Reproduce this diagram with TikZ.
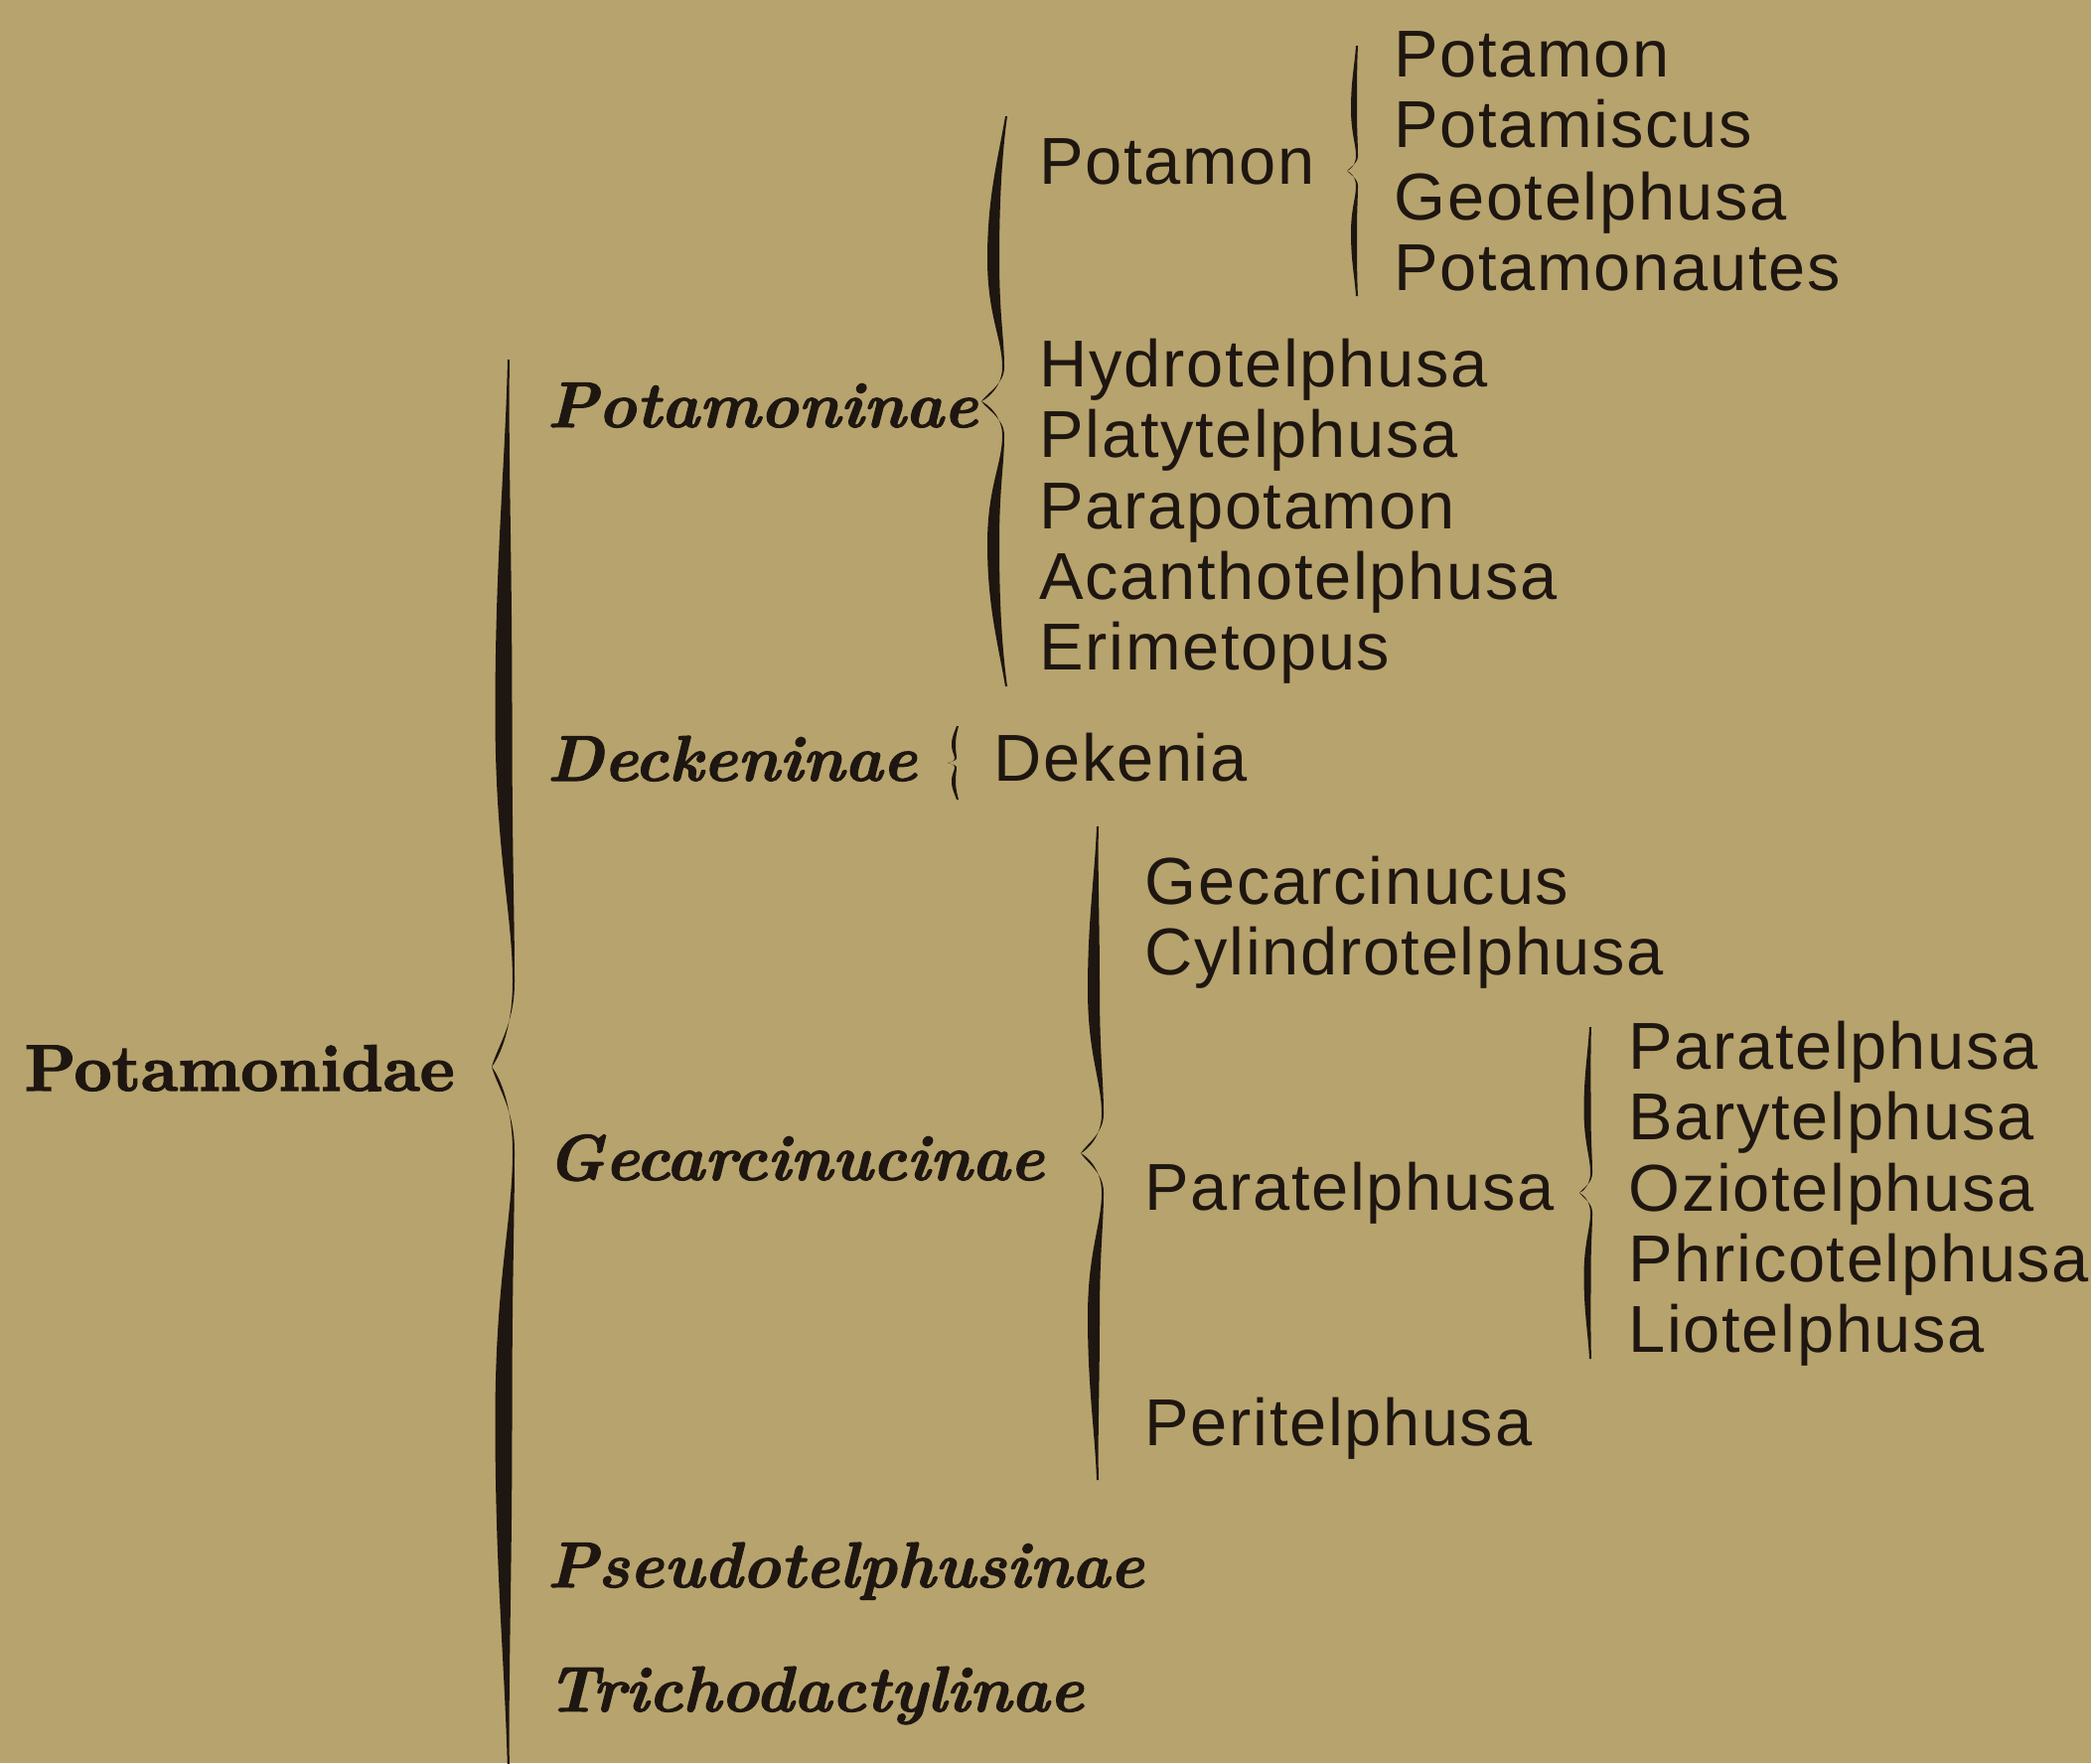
\documentclass[tikz,border=0pt]{standalone}
\usepackage{fontspec}
\newfontfamily\genusfont{Liberation Sans}[LetterSpace=2.5]
\newfontfamily\subfamfont{lmroman10-bolditalic}[Extension=.otf, FakeBold=1.6]
\newfontfamily\familyfont{lmroman10-bold}[Extension=.otf, FakeBold=2]
\usetikzlibrary{calc}
\definecolor{ink}{RGB}{30,22,16}
\definecolor{paper}{RGB}{183,163,109}
% #1 tip coordinate, #2 half height, #3 thickness, #4 tip depth, #5 end curl, #6 bump
\newcommand\grpbrace[6]{%
  \foreach \sy in {1,-1}{
    \fill[ink, shift={(#1)}, yscale=\sy]
      (#5,#2) .. controls ({0.4*#5},{0.85*#2}) and ({-#3/2},{0.72*#2}) .. ({-#3/2},{0.5*#2})
      .. controls ({-#3/2},{0.3*#2}) and ({#6-1},{0.22*#2}) .. ({#6-1},{0.12*#2})
      .. controls ({#6-1},{0.05*#2}) and ({-0.5*#4},{0.01*#2}) .. ({-#4},0)
      .. controls ({-0.5*#4},{0.03*#2}) and ({#6+1},{0.06*#2}) .. ({#6+1},{0.12*#2})
      .. controls ({#6+1},{0.22*#2}) and ({#3/2},{0.3*#2}) .. ({#3/2},{0.5*#2})
      .. controls ({#3/2},{0.72*#2}) and ({0.6*#5+2},{0.88*#2}) .. ({#5+2},{#2}) -- cycle;
  }%
}
\tikzset{
  every picture/.style={color=ink},
  family/.style={anchor=base west, inner sep=0pt, font=\familyfont\fontsize{18.8}{21}\selectfont},
  subfam/.style={anchor=base west, inner sep=0pt, font=\subfamfont\fontsize{18.5}{20}\selectfont},
  genus/.style={anchor=base west, inner sep=0pt, font=\genusfont\fontsize{19}{21}\selectfont},
}

\begin{document}
\begin{tikzpicture}[x=0.1mm, y=-0.1mm]
  \fill[paper] (0,0) rectangle (2105,1775);
  \useasboundingbox (0,0) rectangle (2105,1775);
  % family
  \node[family] (potamonidae) at (24,1098) {Potamonidae};
  % subfamilies
  \node[subfam] (potamoninae) at (550,430) {Potamoninae};
  \node[subfam] (deckeninae) at (550,786) {Deckeninae};
  \node[subfam] (gecarcinucinae) at (550,1188) {Gecarcinucinae};
  \node[subfam] (pseudotelphusinae) at (550,1598) {Pseudotelphusinae};
  \node[subfam] (trichodactylinae) at (550,1723) {Trichodactylinae};
  % genera of Potamoninae
  \node[genus] (g-potamon) at (1046,185) {Potamon};
  \node[genus] (g-hydro) at (1046,389) {Hydrotelphusa};
  \node[genus] (g-platy) at (1046,460) {Platytelphusa};
  \node[genus] (g-parapot) at (1046,532) {Parapotamon};
  \node[genus] (g-acantho) at (1046,603) {Acanthotelphusa};
  \node[genus] (g-erime) at (1046,674) {Erimetopus};
  % subgenera of Potamon
  \node[genus] (s-potamon) at (1403,77) {Potamon};
  \node[genus] (s-potamiscus) at (1403,148) {Potamiscus};
  \node[genus] (s-geo) at (1403,221) {Geotelphusa};
  \node[genus] (s-potamonautes) at (1403,292) {Potamonautes};
  % genus of Deckeninae
  \node[genus] (g-dekenia) at (1000,786) {Dekenia};
  % genera of Gecarcinucinae
  \node[genus] (g-gecarc) at (1152,910) {Gecarcinucus};
  \node[genus] (g-cylindro) at (1152,981) {Cylindrotelphusa};
  \node[genus] (g-paratel) at (1152,1218) {Paratelphusa};
  \node[genus] (g-peritel) at (1152,1455) {Peritelphusa};
  % subgenera of Paratelphusa
  \node[genus] (s-paratel) at (1639,1076) {Paratelphusa};
  \node[genus] (s-bary) at (1639,1147) {Barytelphusa};
  \node[genus] (s-ozio) at (1639,1219) {Oziotelphusa};
  \node[genus] (s-phrico) at (1639,1290) {Phricotelphusa};
  \node[genus] (s-lio) at (1639,1361) {Liotelphusa};
  % braces
  \coordinate (br-family) at (507,1074);
  \coordinate (br-potamoninae) at (1000,404);
  \coordinate (br-potamon) at (1363,172);
  \coordinate (br-deckeninae) at (960,768);
  \coordinate (br-gecarc) at (1101,1161);
  \coordinate (br-paratel) at (1598,1201);
  \grpbrace{br-family}{712}{17}{12}{4}{10}
  \grpbrace{br-potamoninae}{287}{12}{12}{12}{10}
  \grpbrace{br-potamon}{126}{6}{7}{2}{3}
  \grpbrace{br-deckeninae}{37}{4}{6}{3}{2}
  \grpbrace{br-gecarc}{329}{12}{13}{3}{9}
  \grpbrace{br-paratel}{167}{7}{8}{2}{4}
\end{tikzpicture}
\end{document}
